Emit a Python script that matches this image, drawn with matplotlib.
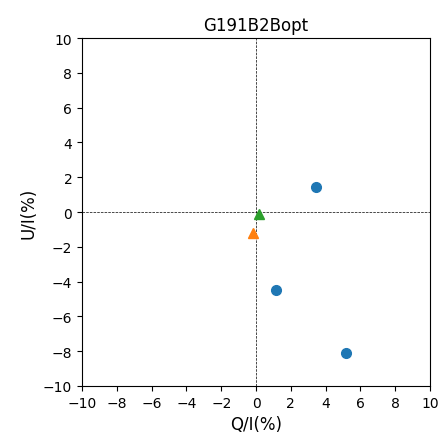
import matplotlib
matplotlib.use("Agg")
import matplotlib.pyplot as plt

# polarisation measurements (per cent)
q_obs = [3.45, 1.15, 5.17]
u_obs = [1.45, -4.5, -8.1]
q_ref1 = [-0.2]
u_ref1 = [-1.2]
q_ref2 = [0.18]
u_ref2 = [-0.1]

fig = plt.figure(figsize=(4.42, 4.39), dpi=100)
ax = fig.add_axes([0.1855, 0.1185, 0.7875, 0.7925])

ax.axhline(0, color="k", ls="--", lw=0.5)
ax.axvline(0, color="k", ls="--", lw=0.5)
ax.plot(q_obs, u_obs, "o", color="C0", ms=7)
ax.plot(q_ref1, u_ref1, "^", color="C1", ms=7)
ax.plot(q_ref2, u_ref2, "^", color="C2", ms=7)

ax.set_xlim(-10, 10)
ax.set_ylim(-10, 10)
ax.set_xticks(range(-10, 11, 2))
ax.set_yticks(range(-10, 11, 2))
ax.set_xlabel("Q/I(%)", fontsize=12)
ax.set_ylabel("U/I(%)", fontsize=12)
ax.set_title("G191B2Bopt", fontsize=12)

fig.savefig("out.png", dpi=100)
